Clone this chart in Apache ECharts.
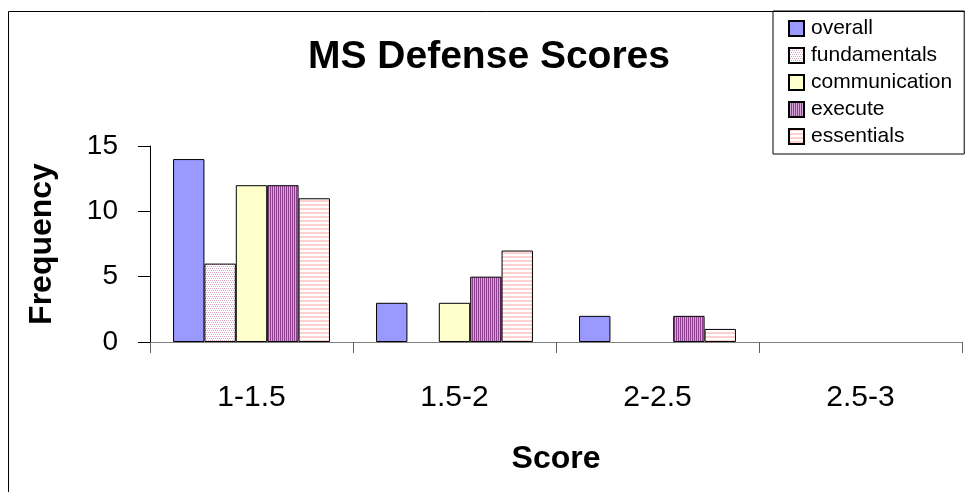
<!DOCTYPE html>
<html>
<head>
<meta charset="utf-8">
<script src="https://cdn.jsdelivr.net/npm/echarts@6/dist/echarts.min.js"></script>
<style>
  html, body { margin: 0; padding: 0; background: #fff; }
  #main { width: 965px; height: 492px; }
</style>
</head>
<body>
<div id="main"></div>
<script>
// data
var categories = ['1-1.5', '1.5-2', '2-2.5', '2.5-3'];
var seriesNames = ['overall', 'fundamentals', 'communication', 'execute', 'essentials'];
var overall = [14, 3, 2, 0];
var fundamentals = [6, 0, 0, 0];
var communication = [12, 3, 0, 0];
var execute = [12, 5, 2, 0];
var essentials = [11, 7, 1, 0];
var yTicks = [0, 5, 10, 15];

var FONT = '"Liberation Sans", Arial, sans-serif';

// little canvas tiles for the excel-ish fill patterns
function tile(w, h, draw) {
    var c = document.createElement('canvas');
    c.width = w; c.height = h;
    var ctx = c.getContext('2d');
    draw(ctx);
    return { image: c, repeat: 'repeat' };
}
var dotted = tile(4, 4, function (ctx) {
    ctx.fillStyle = '#ffffff'; ctx.fillRect(0, 0, 4, 4);
    ctx.fillStyle = '#d9a3c6';
    ctx.fillRect(0, 0, 1, 1); ctx.fillRect(2, 0, 1, 1);
    ctx.fillRect(1, 2, 1, 1); ctx.fillRect(3, 2, 1, 1);
});
var vstripe = tile(2, 2, function (ctx) {
    ctx.fillStyle = '#d8a5d8'; ctx.fillRect(0, 0, 2, 2);
    ctx.fillStyle = '#8c3f8c'; ctx.fillRect(0, 0, 1, 2);
});
var hstripe = tile(4, 4, function (ctx) {
    ctx.fillStyle = '#ffffff'; ctx.fillRect(0, 0, 4, 4);
    ctx.fillStyle = '#ffd0d0'; ctx.fillRect(0, 0, 4, 2);
});

var fills = ['#9999ff', dotted, '#ffffcc', vstripe, hstripe];
var values = [overall, fundamentals, communication, execute, essentials];

var series = seriesNames.map(function (name, i) {
    return {
        name: name,
        type: 'bar',
        // a zero bar gets no outline, excel draws nothing there
        data: values[i].map(function (v) {
            return v === 0 ? { value: v, itemStyle: { borderWidth: 0 } } : v;
        }),
        barGap: '0%',
        barCategoryGap: '22.7%',
        itemStyle: { color: fills[i], borderColor: '#000', borderWidth: 1 },
        emphasis: { disabled: true }
    };
});

var chart = echarts.init(document.getElementById('main'), null, { renderer: 'canvas' });
chart.setOption({
    animation: false,
    backgroundColor: '#fff',
    textStyle: { fontFamily: FONT, color: '#000' },
    title: {
        text: 'MS Defense Scores',
        left: 303,
        top: 33,
        textStyle: { fontFamily: FONT, fontSize: 39, fontWeight: 'bold', color: '#000' }
    },
    legend: {
        orient: 'vertical',
        left: 773,
        top: 11,
        padding: [7, 12, 7, 15],
        itemGap: 6,
        itemWidth: 15,
        itemHeight: 15,
        icon: 'rect',
        backgroundColor: '#fff',
        borderColor: '#000',
        borderWidth: 1,
        borderRadius: 0,
        textStyle: { fontFamily: FONT, fontSize: 21, color: '#000', padding: [0, 0, 0, 2] },
        data: seriesNames
    },
    grid: { left: 150, right: 3, top: 146, bottom: 150, containLabel: false },
    xAxis: {
        type: 'category',
        data: categories,
        name: 'Score',
        nameLocation: 'middle',
        nameGap: 101,
        nameTextStyle: { fontFamily: FONT, fontSize: 32, fontWeight: 'bold', color: '#000' },
        axisLine: { lineStyle: { color: '#808080', width: 1 } },
        axisTick: { show: true, alignWithLabel: false, length: 11, lineStyle: { color: '#606060' } },
        axisLabel: { fontFamily: FONT, fontSize: 30, color: '#000', margin: 41 },
        splitLine: { show: false }
    },
    yAxis: {
        type: 'value',
        min: yTicks[0],
        max: yTicks[yTicks.length - 1],
        interval: yTicks[1] - yTicks[0],
        name: 'Frequency',
        nameLocation: 'middle',
        nameGap: 92,
        nameTextStyle: { fontFamily: FONT, fontSize: 32, fontWeight: 'bold', color: '#000' },
        axisLine: { show: true, lineStyle: { color: '#000', width: 1 } },
        axisTick: { show: true, length: 12, lineStyle: { color: '#000' } },
        axisLabel: { fontFamily: FONT, fontSize: 28, color: '#000', margin: 32 },
        splitLine: { show: false }
    },
    graphic: [
        // the chart-area frame that starts off the top/left of the picture
        { type: 'line', shape: { x1: 8.5, y1: 11.5, x2: 8.5, y2: 492 }, style: { stroke: '#000', lineWidth: 1 }, z: 100 },
        { type: 'line', shape: { x1: 8.5, y1: 11.5, x2: 965, y2: 11.5 }, style: { stroke: '#000', lineWidth: 1 }, z: 100 }
    ],
    series: series
});
</script>
</body>
</html>
